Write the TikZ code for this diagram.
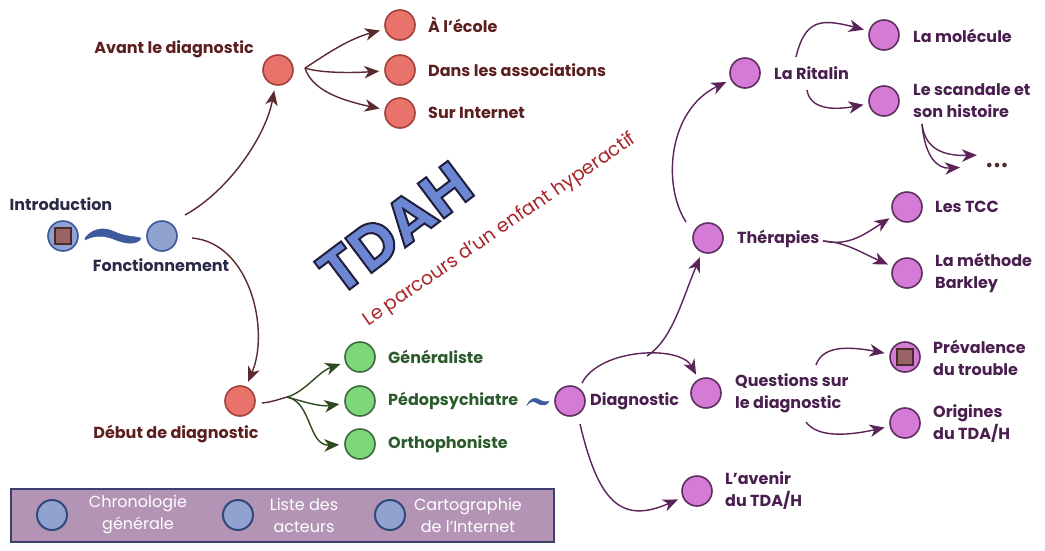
\documentclass[tikz,border=0pt]{standalone}
\usepackage{fontspec}
\setmainfont{Poppins}
\usetikzlibrary{arrows.meta,calc}
\definecolor{bluefill}{HTML}{8FA2D0}
\definecolor{blueline}{HTML}{3C5A98}
\definecolor{wavefill}{HTML}{3D5A9E}
\definecolor{sqfill}{HTML}{9B6464}
\definecolor{sqline}{HTML}{4A2A2A}
\definecolor{redfill}{HTML}{E8736A}
\definecolor{redline}{HTML}{A3403C}
\definecolor{redtext}{HTML}{5C1F1F}
\definecolor{redarrow}{HTML}{5A2A2E}
\definecolor{greenfill}{HTML}{7DD87A}
\definecolor{greenline}{HTML}{3F6B3F}
\definecolor{greentext}{HTML}{2B5A2B}
\definecolor{greenarrow}{HTML}{2D4A1E}
\definecolor{purpfill}{HTML}{D47BD6}
\definecolor{purpline}{HTML}{5E2F60}
\definecolor{purptext}{HTML}{4A1F4F}
\definecolor{purparrow}{HTML}{5A2458}
\definecolor{navytext}{HTML}{2A2A48}
\definecolor{tdahfill}{HTML}{6D86D4}
\definecolor{subred}{HTML}{A8262A}
\definecolor{legfill}{HTML}{B394B5}
\definecolor{legline}{HTML}{3D3F6F}
\definecolor{dotsc}{HTML}{4A2A2A}
\newcommand{\outlinedtext}[1]{{\color{tdahfill}\special{pdf:literal direct 0.12 0.12 0.23 RG 2 w 2 Tr}#1\special{pdf:literal direct 0 Tr}}}
\newcommand{\apos}{\symbol{39}}
\begin{document}
\begin{tikzpicture}[x=1pt,y=-1pt,
  dot/.style={circle, minimum size=30pt, inner sep=0pt, line width=1.6pt},
  bluedot/.style={dot, fill=bluefill, draw=blueline},
  reddot/.style={dot, fill=redfill, draw=redline},
  greendot/.style={dot, fill=greenfill, draw=greenline},
  purpdot/.style={dot, fill=purpfill, draw=purpline},
  sqbox/.style={rectangle, minimum size=16pt, inner sep=0pt, fill=sqfill, draw=sqline, line width=1.2pt},
  lbl/.style={inner sep=0pt, font=\fontsize{16}{22}\selectfont\bfseries, align=left},
  lblw/.style={lbl, anchor=west},
  arr/.style={-{Stealth[length=15pt,width=12.5pt,inset=4.5pt]}, line width=1.4pt, shorten >=5pt},
  redarr/.style={arr, draw=redarrow},
  greenarr/.style={arr, draw=greenarrow},
  purparr/.style={arr, draw=purparrow},
  legtext/.style={inner sep=0pt, text=white, font=\fontsize{16}{22}\selectfont, align=center}
]
\fill[white] (0,0) rectangle (1045,550);
\useasboundingbox (0,0) rectangle (1045,550);

% ---------- left group
\node[bluedot] (intro) at (63,236) {};
\node[sqbox] (introsq) at (intro) {};
\node[lbl, text=navytext] (introlbl) at (61,204) {Introduction};
\node[bluedot] (fonct) at (162,236) {};
\node[lbl, text=navytext] (fonctlbl) at (161,265) {Fonctionnement};
\fill[wavefill, draw=blueline, line width=0.4pt]
  (85,238) .. controls (92,229) and (103,226) .. (115,232)
  .. controls (126,237) and (134,236) .. (141,238)
  .. controls (139,244) and (128,245) .. (116,240)
  .. controls (104,235) and (95,235) .. (85,240) -- cycle;

\node[reddot] (avant) at (278,70) {};
\node[lbl, text=redtext] (avantlbl) at (174,49) {Avant le diagnostic};
\node[reddot] (ecole) at (400,25) {};
\node[lblw, text=redtext] (ecolelbl) at (428,25) {À l\apos école};
\node[reddot] (assoc) at (400,70) {};
\node[lblw, text=redtext] (assoclbl) at (428,70) {Dans les associations};
\node[reddot] (internet) at (400,113) {};
\node[lblw, text=redtext] (internetlbl) at (428,113) {Sur Internet};

\node[reddot] (debut) at (240,401) {};
\node[lbl, text=redtext] (debutlbl) at (176,434) {Début de diagnostic};
\node[greendot] (gen) at (360,357) {};
\node[lblw, text=greentext] (genlbl) at (388,357) {Généraliste};
\node[greendot] (pedo) at (360,401) {};
\node[lblw, text=greentext] (pedolbl) at (388,401) {Pédopsychiatre};
\node[greendot] (ortho) at (360,444) {};
\node[lblw, text=greentext] (ortholbl) at (388,444) {Orthophoniste};

\coordinate (savant) at (305,68);
\draw[redarr] (savant) .. controls (318,60) and (345,40) .. (ecole);
\draw[redarr] (savant) .. controls (320,73) and (350,73) .. (assoc);
\draw[redarr] (savant) .. controls (312,90) and (340,100) .. (internet);
\coordinate (sfonct1) at (185,215);
\draw[redarr] (sfonct1) .. controls (230,190) and (266,135) .. (avant);
\coordinate (sfonct2) at (192,238);
\draw[redarr] (sfonct2) .. controls (250,243) and (270,330) .. (debut);
\coordinate (sdebut) at (262,403);
\coordinate (gsplit) at (287,397);
\draw[redarrow, line width=1.4pt] (sdebut) .. controls (272,402) and (280,399) .. (gsplit);
\draw[greenarr] (gsplit) .. controls (305,392) and (318,372) .. (gen);
\draw[greenarr] (gsplit) .. controls (305,402) and (320,407) .. (pedo);
\draw[greenarr] (gsplit) .. controls (312,402) and (308,446) .. (ortho);

% ---------- TDAH title
\node[rotate=37, inner sep=0pt, font=\fontsize{62}{62}\selectfont\bfseries] (tdah) at (395,228) {\outlinedtext{TDAH}};
\node[rotate=34.5, inner sep=0pt, text=subred, font=\fontsize{19}{19}\selectfont] (subt) at (500,230) {Le parcours d’un enfant hyperactif};

% ---------- right group
\fill[wavefill, draw=blueline, line width=0.4pt]
  (527,405) .. controls (530,399) and (534,397) .. (538,399)
  .. controls (542,401) and (545,403) .. (549,401)
  .. controls (548,405) and (543,407) .. (537,403)
  .. controls (533,400) and (530,402) .. (527,405) -- cycle;
\node[purpdot] (diag) at (570,401) {};
\node[lblw, text=purptext] (diaglbl) at (590,401) {Diagnostic};
\node[purpdot] (ther) at (708,238) {};
\node[lblw, text=purptext] (therlbl) at (737,239) {Thérapies};
\node[purpdot] (rital) at (745,73) {};
\node[lblw, text=purptext] (ritallbl) at (774,73) {La Ritalin};
\node[purpdot] (molec) at (884,35) {};
\node[lblw, text=purptext] (moleclbl) at (913,36) {La molécule};
\node[purpdot] (scand) at (884,101) {};
\node[lblw, text=purptext] (scandlbl) at (913,101) {Le scandale et\\son histoire};
\node[inner sep=0pt, text=dotsc, font=\fontsize{15}{15}\selectfont\bfseries] (dots) at (997,167) {•••};
\node[purpdot] (tcc) at (907,207) {};
\node[lblw, text=purptext] (tcclbl) at (935,207) {Les TCC};
\node[purpdot] (bark) at (907,273) {};
\node[lblw, text=purptext] (barklbl) at (935,273) {La méthode\\Barkley};
\node[purpdot] (quest) at (706,393) {};
\node[lblw, text=purptext] (questlbl) at (735,393) {Questions sur\\le diagnostic};
\node[purpdot] (prev) at (905,357) {};
\node[sqbox] (prevsq) at (prev) {};
\node[lblw, text=purptext] (prevlbl) at (933,358) {Prévalence\\du trouble};
\node[purpdot] (orig) at (905,423) {};
\node[lblw, text=purptext] (origlbl) at (933,424) {Origines\\du TDA/H};
\node[purpdot] (aven) at (697,491) {};
\node[lblw, text=purptext] (avenlbl) at (725,491) {L\apos avenir\\du TDA/H};

\coordinate (sdiag1) at (582,383);
\coordinate (branchT) at (647,356);
\coordinate (sdiag2) at (580,424);
\draw[purparr] (sdiag1) .. controls (600,348) and (680,345) .. (quest);
\draw[purparr] (branchT) .. controls (672,340) and (682,300) .. (ther);
\draw[purparr] (sdiag2) .. controls (598,500) and (620,525) .. (aven);
\coordinate (sther1) at (686,222);
\draw[purparr] (sther1) .. controls (662,185) and (668,110) .. (rital);
\coordinate (sritup) at (796,57);
\coordinate (sritdn) at (807,90);
\draw[purparr] (sritup) .. controls (805,20) and (820,18) .. (molec);
\draw[purparr] (sritdn) .. controls (810,110) and (835,110) .. (scand);
\coordinate (sscand) at (922,124);
\coordinate (dotsA) at (982,155);
\coordinate (dotsB) at (965,167);
\draw[purparr] (sscand) .. controls (925,150) and (945,156) .. (dotsA);
\draw[purparr] (sscand) .. controls (925,158) and (938,169) .. (dotsB);
\coordinate (sther2) at (823,241);
\draw[purparr] (sther2) .. controls (848,246) and (862,236) .. (tcc);
\draw[purparr] (sther2) .. controls (845,242) and (860,252) .. (bark);
\coordinate (squest1) at (816,365);
\coordinate (squest2) at (806,422);
\draw[purparr] (squest1) .. controls (822,348) and (842,345) .. (prev);
\draw[purparr] (squest2) .. controls (816,436) and (842,437) .. (orig);

% ---------- legend
\node[draw=legline, fill=legfill, line width=2.2pt, minimum width=543pt, minimum height=53pt, inner sep=0pt, anchor=north west] (legend) at (10,488) {};
\node[bluedot, line width=2pt, draw=blueline!80!black] (leg1) at (52,515) {};
\node[legtext] (leg1lbl) at (138,515) {Chronologie\\générale};
\node[bluedot, line width=2pt, draw=blueline!80!black] (leg2) at (238,515) {};
\node[legtext] (leg2lbl) at (304,515) {Liste des\\acteurs};
\node[bluedot, line width=2pt, draw=blueline!80!black] (leg3) at (390,515) {};
\node[legtext] (leg3lbl) at (468,515) {Cartographie\\de l\apos Internet};
\end{tikzpicture}
\end{document}
